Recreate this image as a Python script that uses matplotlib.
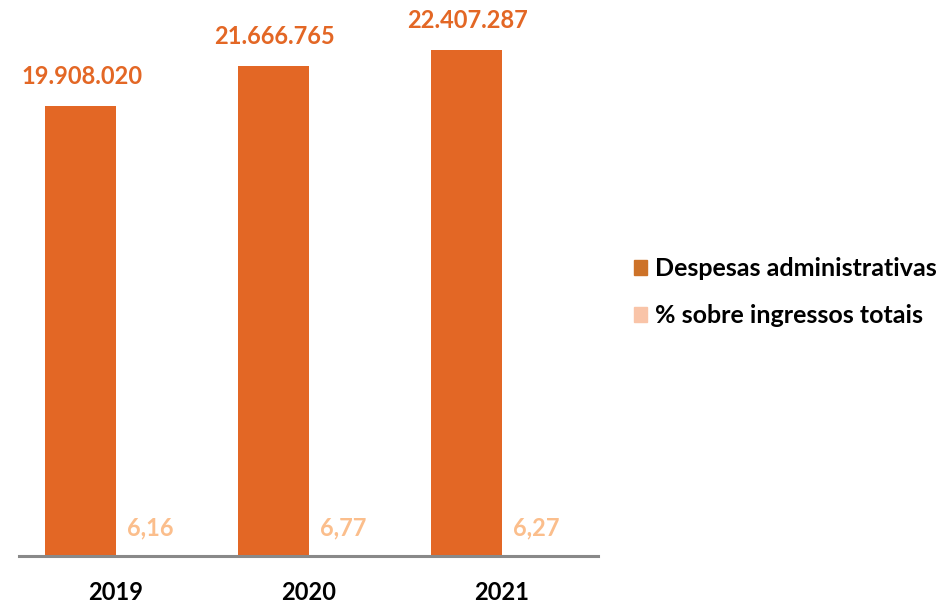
import matplotlib
matplotlib.use("Agg")
import matplotlib.pyplot as plt
from matplotlib.patches import Patch
import numpy as np

years = ["2019", "2020", "2021"]
despesas = [19908020, 21666765, 22407287]
despesas_labels = ["19.908.020", "21.666.765", "22.407.287"]
percent = [6.16, 6.77, 6.27]
percent_labels = ["6,16", "6,77", "6,27"]
series_names = ["Despesas administrativas", "% sobre ingressos totais"]

c_main = "#E36725"
c_pct = "#F9C4A8"
c_pct_text = "#FBBE8C"
c_leg_main = "#CD7228"

plt.rcParams['font.family'] = ['Lato', 'DejaVu Sans']
plt.rcParams['font.weight'] = 'bold'

fig = plt.figure(figsize=(9.38, 6.04), dpi=100)
ax = fig.add_axes([19/938, 48/604, (598-19)/938, 556/604])

x = np.arange(len(years))
w = 0.363
ax.bar(x - w/2, despesas, width=w, color=c_main)
ax.bar(x + w/2, percent, width=w, color=c_pct)

ax.set_xlim(-0.5, 2.5)
ax.set_ylim(0, 24.6e6)

for xi, v, lab in zip(x, despesas, despesas_labels):
    ax.annotate(lab, (xi - w/2, v), xytext=(1, 13), textcoords="offset points",
                ha="center", va="bottom", color=c_main, fontsize=17, fontweight="bold")
for xi, v, lab in zip(x, percent, percent_labels):
    ax.annotate(lab, (xi + w/2, v), xytext=(0, 20), textcoords="offset points",
                ha="center", va="center", color=c_pct_text, fontsize=17, fontweight="bold")

for s in ["top", "left", "right"]:
    ax.spines[s].set_visible(False)
ax.spines["bottom"].set_color("#898989")
ax.spines["bottom"].set_linewidth(2.2)
ax.set_yticks([])
ax.set_xticks(x)
ax.set_xticklabels(years, fontsize=17, fontweight="bold", color="black")
ax.tick_params(axis="x", length=0, pad=18)

handles = [Patch(color=c_leg_main), Patch(color=c_pct)]
fig.legend(handles, series_names, loc="center left", bbox_to_anchor=(611/938, 1 - 292/604),
           frameon=False, handlelength=0.55, handleheight=0.55, handletextpad=0.3,
           labelspacing=0.95, prop={'size': 18, 'weight': 'bold'})

fig.savefig("out.png", dpi=100)
